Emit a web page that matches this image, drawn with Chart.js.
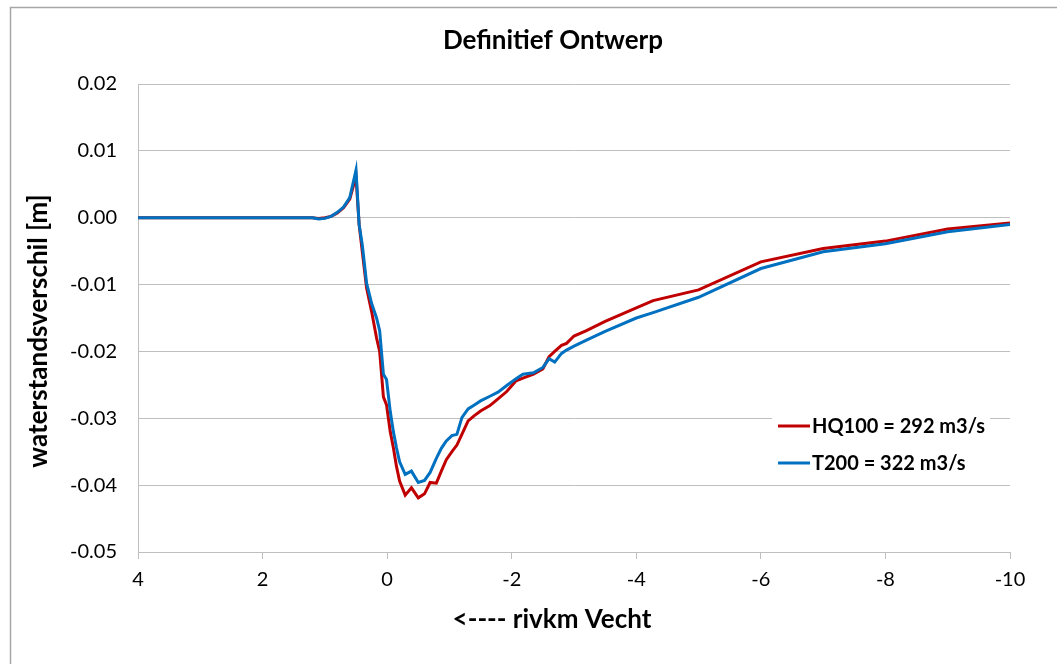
<!DOCTYPE html>
<html>
<head>
<meta charset="utf-8">
<script src="https://cdn.jsdelivr.net/npm/chart.js@4.4.1/dist/chart.umd.min.js"></script>
<style>
  html, body { margin: 0; padding: 0; background: #fff; }
  #wrap { width: 1057px; height: 664px; }
</style>
</head>
<body>
<div id="wrap"><canvas id="c" width="1057" height="664"></canvas></div>
<script>
const chartTitle = "Definitief Ontwerp";
const xAxisTitle = "<---- rivkm Vecht";
const yAxisTitle = "waterstandsverschil [m]";
const seriesLabels = ["HQ100 = 292 m3/s", "T200 = 322 m3/s"];

const rivkm = [4, 3, 2, 1.5, 1.2, 1.1, 1.0, 0.9, 0.8, 0.7, 0.6, 0.5, 0.45, 0.4, 0.33, 0.25, 0.17, 0.12, 0.06, 0.01,
  -0.05, -0.1, -0.15, -0.2, -0.29, -0.39, -0.5, -0.6, -0.69, -0.79, -0.87, -0.95, -1.04, -1.12, -1.2, -1.3, -1.4, -1.5,
  -1.65, -1.78, -1.92, -2.07, -2.18, -2.35, -2.5, -2.6, -2.69, -2.8, -2.88, -3.0, -3.2, -3.5, -4.0, -4.27, -5.0,
  -6, -7, -8, -9, -10];

const hq100 = [0, 0, 0, 0, 0, -0.0001, 0, 0.0002, 0.0007, 0.0015, 0.0028, 0.0062, -0.0010, -0.0050, -0.0105, -0.0140, -0.0180, -0.0200, -0.0268, -0.0280,
  -0.0320, -0.0344, -0.0372, -0.0394, -0.0415, -0.0404, -0.0419, -0.0413, -0.0396, -0.0397, -0.0379, -0.0362, -0.0350, -0.0340, -0.0324, -0.0304, -0.0296, -0.0289,
  -0.0281, -0.0271, -0.0260, -0.0244, -0.0240, -0.0234, -0.0226, -0.0208, -0.0200, -0.0191, -0.0188, -0.0177, -0.0169, -0.0155, -0.0135, -0.0124, -0.0108,
  -0.0066, -0.0046, -0.0035, -0.0017, -0.0008];

const t200 = [0, 0, 0, 0, 0, -0.0002, -0.0001, 0.0002, 0.0008, 0.0016, 0.0030, 0.0071, -0.0010, -0.0040, -0.0098, -0.0128, -0.0150, -0.0169, -0.0234, -0.0242,
  -0.0290, -0.0320, -0.0344, -0.0365, -0.0384, -0.0379, -0.0396, -0.0393, -0.0381, -0.0360, -0.0345, -0.0334, -0.0326, -0.0324, -0.0299, -0.0286, -0.0280, -0.0274,
  -0.0267, -0.0261, -0.0251, -0.0241, -0.0234, -0.0232, -0.0224, -0.0211, -0.0216, -0.0203, -0.0198, -0.0192, -0.0183, -0.0170, -0.0150, -0.0142, -0.0119,
  -0.0076, -0.0051, -0.0039, -0.0021, -0.0010];

const xTicks = [4, 2, 0, -2, -4, -6, -8, -10];
const yTicks = [0.02, 0.01, 0.00, -0.01, -0.02, -0.03, -0.04, -0.05];

const colors = ["#c00000", "#0070c0"];
const FONT = "Lato, 'Open Sans', sans-serif";
const gridColor = "#bfbfbf";

const decor = {
  id: "decor",
  beforeDraw(chart) {
    const ctx = chart.ctx;
    ctx.save();
    ctx.fillStyle = "#fff";
    ctx.fillRect(0, 0, chart.width, chart.height);
    ctx.strokeStyle = "#a6a6a6";
    ctx.lineWidth = 1.5;
    ctx.strokeRect(10.5, 7.5, 3000, 3000);
    ctx.restore();
  },
  afterDatasetsDraw(chart) {
    const ctx = chart.ctx;
    ctx.save();
    // legend box
    ctx.fillStyle = "#fff";
    ctx.fillRect(772, 405, 218, 77);
    const items = chart.data.datasets;
    items.forEach((ds, i) => {
      const y = 426 + i * 37;
      ctx.strokeStyle = ds.borderColor;
      ctx.lineWidth = 3;
      ctx.beginPath();
      ctx.moveTo(778, y);
      ctx.lineTo(810, y);
      ctx.stroke();
      ctx.fillStyle = "#000";
      ctx.font = "bold 20px " + FONT;
      ctx.textAlign = "left";
      ctx.textBaseline = "middle";
      ctx.fillText(ds.label, 812, y + 1);
    });
    // titles
    ctx.fillStyle = "#000";
    ctx.textAlign = "center";
    ctx.textBaseline = "middle";
    ctx.font = "bold 26px " + FONT;
    ctx.fillText(chartTitle, 553, 41);
    ctx.fillText(xAxisTitle, 552, 620);
    ctx.translate(39, 331);
    ctx.rotate(-Math.PI / 2);
    ctx.fillText(yAxisTitle, 0, 0);
    ctx.restore();
  }
};

new Chart(document.getElementById("c"), {
  type: "line",
  data: {
    datasets: [
      { label: seriesLabels[0], data: rivkm.map((x, i) => ({ x, y: hq100[i] })), borderColor: colors[0], backgroundColor: colors[0], borderWidth: 3, pointRadius: 0, tension: 0, order: 1 },
      { label: seriesLabels[1], data: rivkm.map((x, i) => ({ x, y: t200[i] })), borderColor: colors[1], backgroundColor: colors[1], borderWidth: 3, pointRadius: 0, tension: 0, order: 0 }
    ]
  },
  options: {
    responsive: false,
    animation: false,
    layout: { padding: { left: 0, right: 47, top: 84, bottom: 0 } },
    plugins: { legend: { display: false }, title: { display: false }, tooltip: { enabled: false } },
    scales: {
      x: {
        type: "linear",
        reverse: true,
        min: -10, max: 4,
        afterBuildTicks(scale) { scale.ticks = xTicks.map(v => ({ value: v })); },
        afterFit(scale) { scale.height = 112; },
        ticks: { color: "#000", font: { family: FONT, size: 20 }, padding: 9, maxRotation: 0, autoSkip: false,
          callback: v => String(v) },
        grid: { drawOnChartArea: false, drawTicks: true, tickLength: 7, color: gridColor },
        border: { display: true, color: gridColor, width: 1 }
      },
      y: {
        type: "linear",
        min: -0.05, max: 0.02,
        afterBuildTicks(scale) { scale.ticks = yTicks.map(v => ({ value: v })); },
        afterFit(scale) { scale.width = 138; },
        ticks: { color: "#000", font: { family: FONT, size: 20 }, padding: 21,
          callback: v => (Math.abs(v) < 1e-9 ? 0 : v).toFixed(2) },
        grid: { drawTicks: false, color: gridColor, lineWidth: 1 },
        border: { display: true, color: gridColor, width: 1 }
      }
    }
  },
  plugins: [decor]
});
</script>
</body>
</html>
